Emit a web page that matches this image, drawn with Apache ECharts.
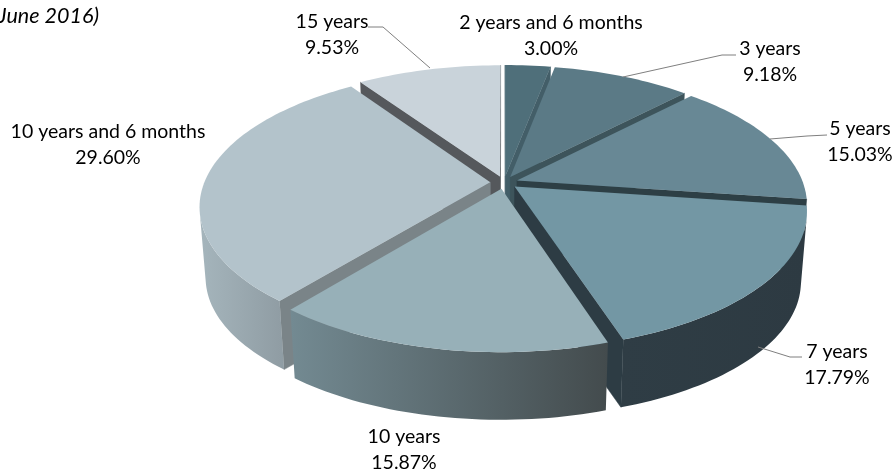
<!DOCTYPE html>
<html><head><meta charset="utf-8">
<style>html,body{margin:0;padding:0;background:#fff;overflow:hidden}#c{width:894px;height:470px}</style>
<script src="https://cdn.jsdelivr.net/npm/echarts@6/dist/echarts.min.js"></script>
</head><body><div id="c"></div>
<script>
// DATA
const categories = ["2 years and 6 months","3 years","5 years","7 years","10 years","10 years and 6 months","15 years"];
const shares = [3.00,9.18,15.03,17.79,15.87,29.60,9.53];
const titleFragment = "(June 2016)";
// STYLE
const topColors  = ["#4f6f7a","#5b7a86","#688895","#7397a4","#97b0b8","#b3c3cb","#c9d3da"];
const wallColors = ["#435e68","#3d545b","#2d3f45","#2d3c44","#434b4d","#7a8488","#55585c"];
const rimFrom    = ["#4f6f7a","#5b7a86","#688895","#2f3d45","#738a92","#a5b5bc","#c9d3da"];
const rimTo      = ["#4f6f7a","#5b7a86","#2d3f45","#2d3a42","#434b4d","#8f9ca3","#c9d3da"];
const labelAt = [[551,36],[770,62],[860,142],[837,365],[404,450],[108,145],[332,35]];
const leaders = [null,[[736,55],[722,55],[623,77]],[[827,135],[807,136],[770,139]],[[802,357],[790,357],[758,347]],null,null,[[368,27],[383,27],[430,68]]];
// PROJECTION of the tilted disc
const cx=504, cy=182.5, f=286, g=132.5, p=0.174, explode=0.048, depthY=71, depthScale=0.98;
const total = shares.reduce((a,b)=>a+b,0);
function project(X,Z){const s=1+p*Z;return [cx+f*X/s, cy-g*Z/s];}
function lower(pt){return [cx+(pt[0]-cx)*depthScale, cy+depthY+(pt[1]-cy)*depthScale];}
let acc=0;
const spans = shares.map(v=>{const a=acc/total*2*Math.PI; acc+=v; return [a,acc/total*2*Math.PI];});
function area(q){let s=0;for(let i=0;i<q.length;i++){const a=q[i],b=q[(i+1)%q.length];s+=a[0]*b[1]-b[0]*a[1];}return s;}

function renderItem(params, api){
  const i = api.value(0), val = api.value(1);
  const a0=spans[i][0], a1=spans[i][1], mid=(a0+a1)/2;
  const ox=explode*Math.sin(mid), oz=explode*Math.cos(mid);
  const steps=Math.max(6,Math.round((a1-a0)*40));
  const arc=[];
  for(let k=0;k<=steps;k++){const t=a0+(a1-a0)*k/steps;arc.push(project(Math.sin(t)+ox,Math.cos(t)+oz));}
  const apex=project(ox,oz);
  const kids=[];
  const wall=(u,v)=>{const q=[u,v,lower(v),lower(u)];
    if(area(q)<0) kids.push({type:'polygon',shape:{points:q},style:{fill:wallColors[i],stroke:wallColors[i],lineWidth:.5}});};
  wall(apex,arc[0]);
  wall(arc[arc.length-1],apex);
  // outer rim: the front-facing run of the arc
  const run=[];
  for(let k=0;k<arc.length-1;k++){
    if(area([arc[k],arc[k+1],lower(arc[k+1]),lower(arc[k])])<0){ if(!run.length) run.push(arc[k]); run.push(arc[k+1]); }
  }
  if(run.length>1){
    const pts=run.concat(run.slice().reverse().map(lower));
    kids.push({type:'polygon',shape:{points:pts},style:{
      fill:new echarts.graphic.LinearGradient(0,0,1,0,[{offset:0,color:rimFrom[i]},{offset:1,color:rimTo[i]}])}});
  }
  kids.push({type:'polygon',shape:{points:[apex].concat(arc)},style:{fill:topColors[i]}});
  if(leaders[i]) kids.push({type:'polyline',shape:{points:leaders[i]},style:{stroke:'#7f7f7f',lineWidth:1,fill:null}});
  kids.push({type:'text',style:{x:labelAt[i][0],y:labelAt[i][1],text:categories[i]+"\n"+val.toFixed(2)+"%",
    align:'center',verticalAlign:'middle',font:'19.5px Lato',lineHeight:26,fill:'#000'}});
  return {type:'group',children:kids};
}
const drawOrder = shares.map((v,i)=>i).sort((m,n)=>{
  const z=j=>Math.cos((spans[j][0]+spans[j][1])/2); return z(n)-z(m);});
const chart=echarts.init(document.getElementById('c'),null,{renderer:'canvas'});
chart.setOption({
  animation:false,backgroundColor:'#fff',
  graphic:[{type:'text',style:{x:99,y:16,text:titleFragment,align:'right',verticalAlign:'middle',font:'italic 21.5px Lato',fill:'#000'}}],
  series:[{type:'custom',coordinateSystem:'none',renderItem,clip:false,silent:true,
    data:drawOrder.map(i=>[i,shares[i]])}]
});
</script></body></html>
